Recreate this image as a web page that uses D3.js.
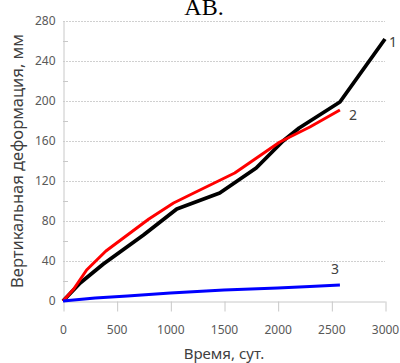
<!DOCTYPE html>
<html><head><meta charset="utf-8">
<script src="https://cdn.jsdelivr.net/npm/d3@7"></script>
<style>body{margin:0;background:#fff}svg{display:block}</style>
</head><body>
<svg id="c" width="400" height="363"></svg>
<script>
const xTicks = [0, 500, 1000, 1500, 2000, 2500, 3000];
const yTicks = [0, 40, 80, 120, 160, 200, 240, 280];
const seriesNames = ["1", "2", "3"];
const series1Days = [0, 160, 376, 750, 1060, 1460, 1800, 2050, 2200, 2580, 3000];
const series1Vals = [0, 18, 37, 66, 92, 108, 133, 160, 173, 199, 262];
const series2Days = [0, 100, 220, 400, 600, 800, 1030, 1200, 1600, 2020, 2300, 2580];
const series2Vals = [0, 12, 31, 50, 66, 82, 98, 107, 128, 159, 174, 191];
const series3Days = [0, 300, 600, 1000, 1500, 2000, 2300, 2580];
const series3Vals = [0, 3, 5, 8, 11, 13, 14.5, 16];
const title = "АВ.";
const xTitle = "Время, сут.";
const yTitle = "Вертикальная деформация, мм";

const svg = d3.select("#c");
const x = d3.scaleLinear().domain([0, 3000]).range([63, 385]);
const y = d3.scaleLinear().domain([0, 280]).range([301, 21]);
const font = "'Noto Sans', sans-serif";

// gridlines
svg.append("g").selectAll("line").data(yTicks.filter(d => d > 0)).join("line")
  .attr("x1", x(0)).attr("x2", x(3000)).attr("y1", d => y(d) + 0.5).attr("y2", d => y(d) + 0.5)
  .attr("stroke", "#d0d0d0").attr("stroke-width", 1).attr("stroke-dasharray", "2,1");

// y axis
const yAxis = d3.axisLeft(y).tickValues(yTicks).tickSize(0).tickPadding(8).tickFormat(d3.format("d"));
const gy = svg.append("g").attr("transform", `translate(${x(0) + 0.5},0)`).call(yAxis);
gy.select(".domain").attr("stroke", "#c8c8c8");
gy.selectAll("text").attr("font-family", font).attr("font-size", 12).attr("fill", "#595959");
// minor ticks inside
svg.append("g").selectAll("line").data(d3.range(20, 280, 40)).join("line")
  .attr("x1", x(0)).attr("x2", x(0) + 5).attr("y1", d => y(d) + 0.5).attr("y2", d => y(d) + 0.5)
  .attr("stroke", "#c8c8c8");

// x axis
const xAxis = d3.axisBottom(x).tickValues(xTicks).tickSize(10).tickPadding(14).tickSizeOuter(0).tickFormat(d3.format("d"));
const gx = svg.append("g").attr("transform", `translate(0,${y(0) + 0.5})`).call(xAxis);
gx.select(".domain").attr("stroke", "#c8c8c8");
gx.selectAll(".tick line").attr("stroke", "#c8c8c8").attr("transform", "translate(0.5,0)");
gx.selectAll("text").attr("font-family", font).attr("font-size", 12).attr("fill", "#595959");

// lines
const line = d3.line().x(d => x(d[0])).y(d => y(d[1]));
const data = [
  { days: series1Days, vals: series1Vals, color: "#000000", w: 3.8 },
  { days: series2Days, vals: series2Vals, color: "#ff0000", w: 3 },
  { days: series3Days, vals: series3Vals, color: "#0000ff", w: 3 }
];
data.forEach(s => {
  svg.append("path").datum(s.days.map((d, i) => [d, s.vals[i]]))
    .attr("d", line).attr("fill", "none").attr("stroke", s.color)
    .attr("stroke-width", s.w).attr("stroke-linejoin", "round");
});

// series labels
const lbl = [
  { t: seriesNames[0], x: 393, y: 47 },
  { t: seriesNames[1], x: 353, y: 120 },
  { t: seriesNames[2], x: 335, y: 274 }
];
svg.append("g").selectAll("text").data(lbl).join("text")
  .attr("x", d => d.x).attr("y", d => d.y).attr("text-anchor", "middle")
  .attr("font-family", font).attr("font-size", 14).attr("fill", "#404040").text(d => d.t);

// titles
svg.append("text").attr("x", 224).attr("y", 359).attr("text-anchor", "middle")
  .attr("font-family", font).attr("font-size", 15).attr("fill", "#404040").text(xTitle);
svg.append("text").attr("transform", "translate(23,161) rotate(-90)").attr("text-anchor", "middle")
  .attr("font-family", font).attr("font-size", 16.5).attr("fill", "#404040").text(yTitle);
svg.append("text").attr("x", 204).attr("y", 15).attr("text-anchor", "middle")
  .attr("font-family", "'Liberation Serif', serif").attr("font-size", 24).attr("fill", "#000").text(title);
</script>
</body></html>
